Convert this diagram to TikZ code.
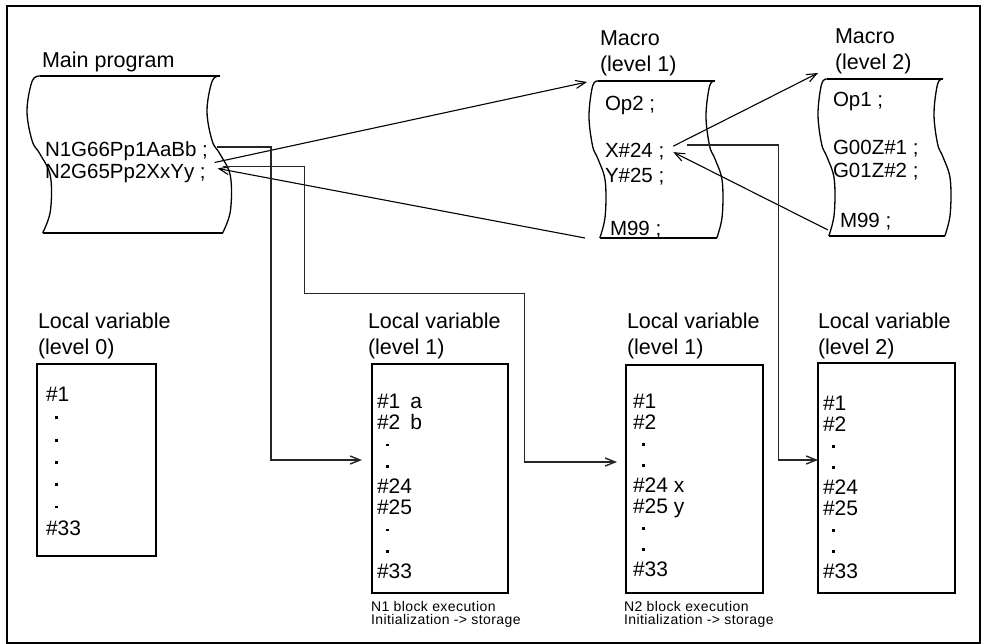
\documentclass[tikz,border=0pt]{standalone}
\usepackage{fontspec}
\setmainfont{Liberation Sans}
\newfontfamily\notefont[LetterSpace=3]{Liberation Sans}
\usetikzlibrary{arrows.meta,positioning}

% one wavy side of a paper tape: top x, top y, swing
\newcommand{\tapeside}[3]{%
  \draw[tapeline] plot[smooth, tension=0.6] coordinates {(#1,#2) ({#1-0.6*#3},{#2+5}) ({#1-#3},{#2+35}) ({#1-0.6*#3},{#2+65}) (#1,{#2+78}) ({#1+0.8*#3},{#2+100}) ({#1+0.8*#3},{#2+135}) ({#1+0.2*#3},{#2+157})};}
% whole tape: left x, right x, top y, swing
\newcommand{\papertape}[4]{%
  \tapeside{#1}{#3}{#4}
  \tapeside{#2}{#3}{#4}
  \draw[tapeline] (#1,#3) -- (#2,#3);
  \draw[tapeline] ({#1+0.2*#4},{#3+157}) -- ({#2+0.2*#4},{#3+157});}
\newcommand{\vd}{\hspace{9pt}\rule[4.5pt]{2.8pt}{2.8pt}}

\begin{document}
\begin{tikzpicture}[x=1pt, y=-1pt, every node/.style={inner sep=0pt, outer sep=0pt, font=\fontsize{21.5}{25.5}\selectfont}]
  \tikzstyle{tapeline} = [line width=1.3pt]
  \tikzstyle{codeline} = [anchor=base west, font=\fontsize{20.5}{25}\selectfont]
  \tikzstyle{heading} = [align=left]
  \tikzstyle{varbox} = [draw, line width=1.3pt, anchor=north west]
  \tikzstyle{varlist} = [align=left]
  \tikzstyle{notetext} = [align=left, font=\notefont\fontsize{14}{13.5}\selectfont]
  \tikzstyle{arrow} = [-{Straight Barb[length=10pt,width=8pt]}, line width=1.1pt]
  \tikzstyle{elbow} = [arrow, draw=black!85, line width=1.4pt]

  \useasboundingbox (0,0) rectangle (981,644);
  \draw[line width=2pt] (7,6) rectangle (980,643);

  % main program
  \papertape{40}{220}{76}{13}
  \coordinate (maintl) at (40,76);
  \node[heading] (mainlbl) [above right=4.5pt and 2pt of maintl] {Main program};
  \node[codeline] (n1) at (45,157) {N1G66Pp1AaBb ;};
  \node[codeline] (n2) at (45,179) {N2G65Pp2XxYy ;};

  % macro level 1
  \papertape{598}{715}{81}{9}
  \coordinate (m1tl) at (598,81);
  \coordinate (m1bl) at (600,238);
  \node[heading] (m1lbl) [above right=5.5pt and 2pt of m1tl] {Macro\\(level 1)};
  \node[codeline] (op2) at (605,111) {Op2 ;};
  \node[codeline] (x24) at (605,158) {X\#24 ;};
  \node[codeline] (y25) at (605,183) {Y\#25 ;};
  \node[codeline] (m99a) at (610,235) {M99 ;};

  % macro level 2
  \papertape{827}{943}{79}{9}
  \coordinate (m2tl) at (827,79);
  \coordinate (m2bl) at (828,236);
  \node[heading] (m2lbl) [above right=5.5pt and 8pt of m2tl] {Macro\\(level 2)};
  \node[codeline] (op1) at (833,107) {Op1 ;};
  \node[codeline] (g00) at (833,155) {G00Z\#1 ;};
  \node[codeline] (g01) at (833,178) {G01Z\#2 ;};
  \node[codeline] (m99b) at (840,228) {M99 ;};

  % local variables
  \node[varbox, minimum width=119pt, minimum height=192pt] (lv0) at (37,364) {};
  \node[varbox, minimum width=136pt, minimum height=229pt] (lvA) at (372,364) {};
  \node[varbox, minimum width=137pt, minimum height=228pt] (lvB) at (626,365) {};
  \node[varbox, minimum width=137pt, minimum height=230pt] (lv2) at (818,363) {};

  \node[heading] (lv0lbl) [above right=5.5pt and 1pt of lv0.north west] {Local variable\\(level 0)};
  \node[heading] (lvAlbl) [above right=5.5pt and -4pt of lvA.north west] {Local variable\\(level 1)};
  \node[heading] (lvBlbl) [above right=6.5pt and 1pt of lvB.north west] {Local variable\\(level 1)};
  \node[heading] (lv2lbl) [above right=4.5pt and 0pt of lv2.north west] {Local variable\\(level 2)};

  \node[varlist, font=\fontsize{21}{22.3}\selectfont] (lv0list) [below right=23pt and 9pt of lv0.north west] {\#1\\\vd\\\vd\\\vd\\\vd\\\vd\\\#33};
  \node[varlist, font=\fontsize{21}{21.25}\selectfont] (lvAlist) [below right=30pt and 5pt of lvA.north west] {\#1\hspace{10pt}a\\\#2\hspace{10pt}b\\\vd\\\vd\\\#24\\\#25\\\vd\\\vd\\\#33};
  \node[varlist, font=\fontsize{21}{21}\selectfont] (lvBlist) [below right=29pt and 7pt of lvB.north west] {\#1\\\#2\\\vd\\\vd\\\#24 x\\\#25 y\\\vd\\\vd\\\#33};
  \node[varlist, font=\fontsize{21}{21}\selectfont] (lv2list) [below right=33pt and 5pt of lv2.north west] {\#1\\\#2\\\vd\\\vd\\\#24\\\#25\\\vd\\\vd\\\#33};

  \node[notetext] (noteA) [below right=8pt and -1pt of lvA.south west] {N1 block execution\\Initialization -> storage};
  \node[notetext] (noteB) [below right=8pt and -2pt of lvB.south west] {N2 block execution\\Initialization -> storage};

  % calls and returns
  \draw[arrow] ([xshift=9pt,yshift=11.5pt]n2.east) -- ([xshift=-11pt,yshift=-1pt]m1tl);
  \draw[arrow] ([xshift=-15pt]m1bl) -- ([xshift=12pt,yshift=5.5pt]n2.east);
  \draw[arrow] ([xshift=9pt,yshift=6pt]x24.east) -- ([xshift=-9pt,yshift=6pt]m2tl);
  \draw[arrow] ([yshift=6pt]m2bl) -- ([xshift=9pt]x24.east);

  % arguments into local variables
  \draw[elbow] ([xshift=9pt,yshift=4.5pt]n1.east) -- ++(54,0) |- ([xshift=-10pt,yshift=18.5pt]lvA.west);
  \draw[elbow] ([xshift=17pt,yshift=7.5pt]n2.east) -- ++(82,0) -- ++(0,127) -- ++(220,0) |- ([xshift=-9pt,yshift=17pt]lvB.west);
  \draw[elbow] ([xshift=23pt,yshift=7pt]x24.east) -- ++(91,0) |- ([yshift=18pt]lv2.west);
\end{tikzpicture}
\end{document}
